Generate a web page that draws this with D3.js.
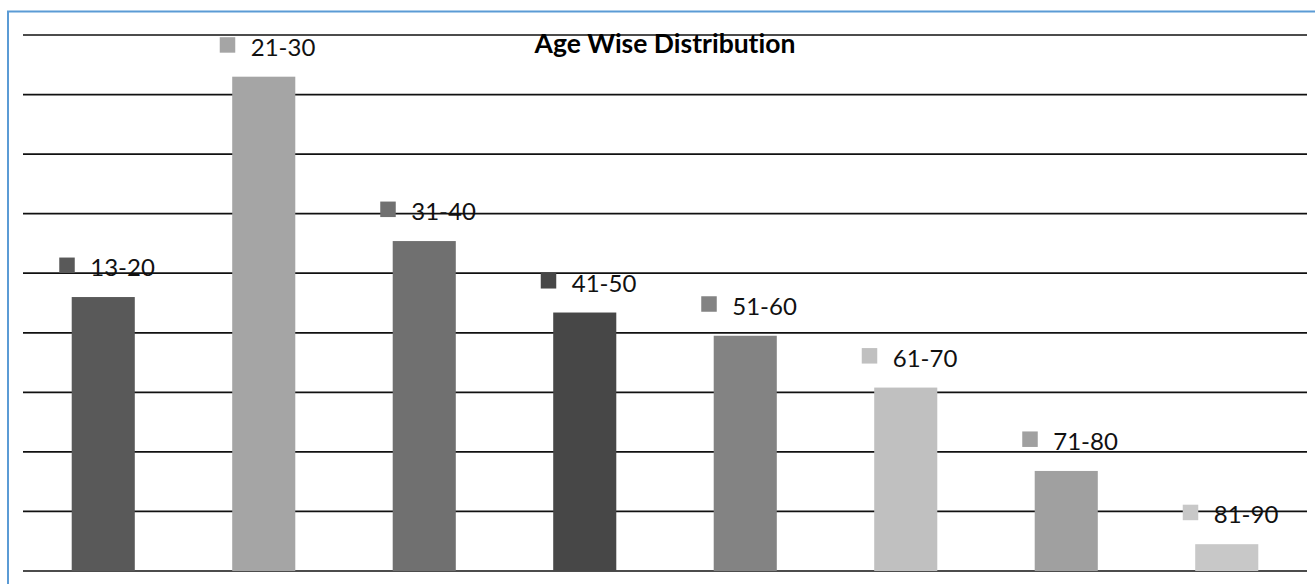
<!DOCTYPE html>
<html>
<head>
<meta charset="utf-8">
<script src="https://cdn.jsdelivr.net/npm/d3@7"></script>
<style>
  html, body { margin: 0; padding: 0; background: #fff; }
  svg { display: block; }
  text { font-variant-ligatures: none; }
</style>
</head>
<body>
<svg id="chart" width="1315" height="584"></svg>
<script>
// Age groups and their counts (one bar per group)
const ageGroups = ["13-20", "21-30", "31-40", "41-50", "51-60", "61-70", "71-80", "81-90"];
const counts    = [46.0, 83.0, 55.4, 43.4, 39.5, 30.8, 16.8, 4.5];
const barColors = ["#595959", "#a5a5a5", "#707070", "#474747", "#838383", "#c0c0c0", "#a0a0a0", "#c8c8c8"];
const gridTicks = [0, 10, 20, 30, 40, 50, 60, 70, 80, 90];
const chartTitle = "Age Wise Distribution";

const svg = d3.select("#chart");
const W = 1315, H = 584;
const plot = { left: 23, right: 1307, top: 35, bottom: 571 };

// Outer frame
svg.append("rect")
  .attr("x", 8).attr("y", 11.5)
  .attr("width", W + 20).attr("height", H + 20)
  .attr("fill", "#fff")
  .attr("stroke", "#5b9bd5").attr("stroke-width", 2);

const x = d3.scaleBand()
  .domain(ageGroups)
  .range([plot.left, plot.right])
  .paddingInner(0.607)
  .paddingOuter(0.3035);

const y = d3.scaleLinear()
  .domain([0, 90])
  .range([plot.bottom, plot.top]);

// Horizontal gridlines
svg.append("g")
  .selectAll("line")
  .data(gridTicks)
  .join("line")
  .attr("x1", plot.left).attr("x2", plot.right)
  .attr("y1", d => y(d)).attr("y2", d => y(d))
  .attr("stroke", "#111")
  .attr("stroke-width", 1.7);

const data = ageGroups.map((g, i) => ({ group: g, value: counts[i], color: barColors[i] }));

// Bars
svg.append("g")
  .selectAll("rect")
  .data(data)
  .join("rect")
  .attr("x", d => x(d.group))
  .attr("y", d => y(d.value))
  .attr("width", x.bandwidth())
  .attr("height", d => y(0) - y(d.value))
  .attr("fill", d => d.color);

// Data labels: colour key square + group name above each bar
const labels = svg.append("g")
  .selectAll("g")
  .data(data)
  .join("g")
  .attr("transform", d => `translate(${x(d.group) + x.bandwidth() / 2},${y(d.value) - 21})`);

labels.append("rect")
  .attr("x", -44).attr("y", -18.5)
  .attr("width", 15.5).attr("height", 15.5)
  .attr("fill", d => d.color);

labels.append("text")
  .attr("x", -13).attr("y", 0)
  .attr("font-family", "Lato, 'Open Sans', sans-serif")
  .attr("font-size", 24)
  .attr("fill", "#111")
  .text(d => d.group);

// Title
svg.append("text")
  .attr("x", (plot.left + plot.right) / 2)
  .attr("y", 53)
  .attr("text-anchor", "middle")
  .attr("font-family", "Lato, 'Open Sans', sans-serif")
  .attr("font-weight", "bold")
  .attr("font-size", 26.5)
  .attr("fill", "#000")
  .text(chartTitle);
</script>
</body>
</html>
